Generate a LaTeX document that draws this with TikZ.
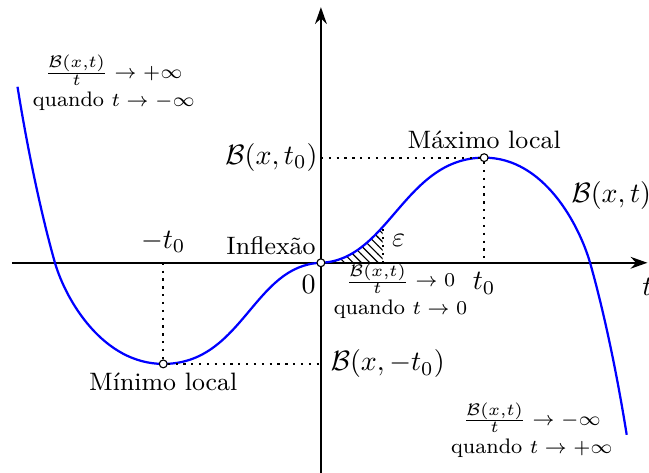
\documentclass[tikz,border=0pt]{standalone}
\usepackage{amsmath, amssymb}
\usepackage{tikz}
\usetikzlibrary{
  arrows.meta,
  positioning,
  patterns
}
\DeclareMathSizes{7.5}{7.5}{6.5}{5}

\begin{document}
\begin{tikzpicture}[
  axis/.style={thick, -{Stealth[length=6pt, width=4.2pt]}},
  curve/.style={thick, blue},
  guide/.style={dotted, thick},
  dot/.style={circle, draw, fill=white, inner sep=0pt, minimum size=2.8pt},
  note/.style={font=\fontsize{7.5}{9}\selectfont, align=center, inner sep=1pt},
  tag/.style={font=\small, inner sep=1.5pt},
]
\useasboundingbox (-4.03,-2.63) rectangle (4.12,3.30);

% Axes
\coordinate (xl) at (-3.88,0);
\coordinate (xr) at (4.10,0);
\coordinate (yb) at (0,-2.70);
\coordinate (yt) at (0,3.21);
\draw[axis] (xl) -- (xr);
\draw[axis] (yb) -- (yt);

% Hatched area
\begin{scope}
  \clip (0,0) rectangle (0.775,1);
  \fill[pattern=north west lines] (0,0) .. controls (0.85,0.03) and (1.05,1.32) .. (2.05,1.32) -- (2.05,0) -- cycle;
\end{scope}
\coordinate (eps) at (0.775,0.45);
\draw[guide] (eps |- xl) -- (eps);

% Curve
\draw[curve] (-3.81,2.21) .. controls (-3.70,1.52) and (-3.53,0.67) .. (-3.34,0)
  .. controls (-3.20,-0.48) and (-2.73,-1.27) .. (-1.98,-1.27)
  .. controls (-0.98,-1.27) and (-0.85,-0.03) .. (0,0)
  .. controls (0.85,0.03) and (1.05,1.32) .. (2.05,1.32)
  .. controls (2.80,1.32) and (3.24,0.48) .. (3.38,0)
  .. controls (3.57,-0.67) and (3.73,-1.47) .. (3.84,-2.16);

% Points
\node[dot] (O) at (0,0) {};
\node[dot] (max) at (2.05,1.32) {};
\node[dot] (min) at (-1.98,-1.27) {};

% Guides
\draw[guide] (O |- max) -- (max);
\draw[guide] (max) -- (max |- O);
\draw[guide] (min |- O) -- (min);
\draw[guide] (min) -- (O |- min);

% Labels
\node[tag, above=0pt of max] {Máximo local};
\node[tag, below=0pt of min] {Mínimo local};
\node[font=\small, anchor=base east, inner sep=0pt] at (-0.06,0.11) {Inflexão};
\node[anchor=north east, inner sep=0pt] at (-0.06,-0.15) {$0$};
\node[anchor=east, inner sep=1pt] at (O |- max) {$\mathcal{B}(x,t_0)$};
\node[anchor=west] at (O |- min) {$\mathcal{B}(x,-t_0)$};
\node[above] at (min |- O) {$-t_0$};
\node[below] at (max |- O) {$t_0$};
\node[below=2pt] at (xr) {$t$};
\node[anchor=west, inner sep=0pt] at (3.14,0.85) {$\mathcal{B}(x,t)$};
\node[anchor=west] at (0.77,0.28) {$\varepsilon$};

% Limits
\node[note] at (-2.60,2.26) {$\frac{\mathcal{B}(x,t)}{t} \to +\infty$\\[1pt]quando $t \to -\infty$};
\node[note] at (1.00,-0.36) {$\frac{\mathcal{B}(x,t)}{t} \to 0$\\[1pt]quando $t \to 0$};
\node[note] at (2.65,-2.10) {$\frac{\mathcal{B}(x,t)}{t} \to -\infty$\\[1pt]quando $t \to +\infty$};
\end{tikzpicture}
\end{document}
